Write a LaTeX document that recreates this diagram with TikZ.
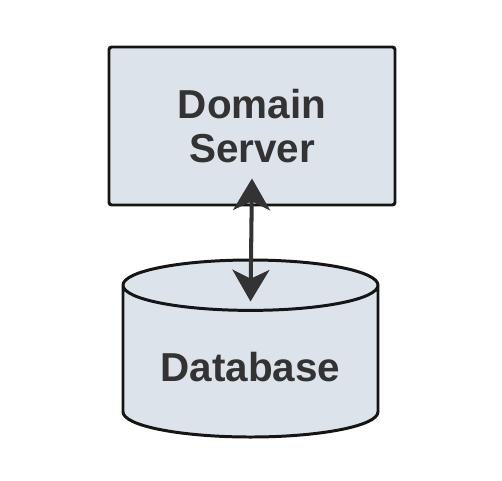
\documentclass[tikz,border=0pt]{standalone}
\usepackage{fontspec}
\setmainfont{Liberation Sans}
\usetikzlibrary{arrows.meta,shapes.geometric}
\definecolor{boxfill}{HTML}{DCE3EA}
\definecolor{boxline}{HTML}{151515}
\definecolor{inktext}{HTML}{333333}
\tikzset{
  serverbox/.style={draw=boxline, fill=boxfill, line width=1.7pt, rounded corners=1.5pt,
    minimum width=5.72cm, minimum height=3.16cm, align=center},
  dbshape/.style={cylinder, shape border rotate=90, aspect=4.3, draw=boxline, fill=boxfill,
    line width=1.7pt, minimum width=5.1cm, minimum height=3.54cm},
  bigtext/.style={font=\fontsize{23}{25.5}\selectfont\bfseries, text=inktext}
}

\begin{document}
\begin{tikzpicture}
			%%%%% START %%%%%
			\useasboundingbox (0, 0) rectangle (10.04, 9.6);
			
			\node[serverbox, bigtext] (srv) at (5.04, 7.08) {Domain\\Server};
			
			\node[dbshape, anchor=south] (db) at (5.01, 0.83) {};
			\node[bigtext] (dbtext) at ([yshift=1.43cm]db.south) {Database};
			
			\draw[line width=2.3pt, color=inktext, {Stealth[length=18pt, width=21pt, inset=5pt]}-{Stealth[length=18pt, width=21pt, inset=5pt]}]
			  ([yshift=0.56cm]srv.south) -- ([yshift=2.74cm]db.south);
			%%%%% END %%%%%
\end{tikzpicture}
\end{document}
